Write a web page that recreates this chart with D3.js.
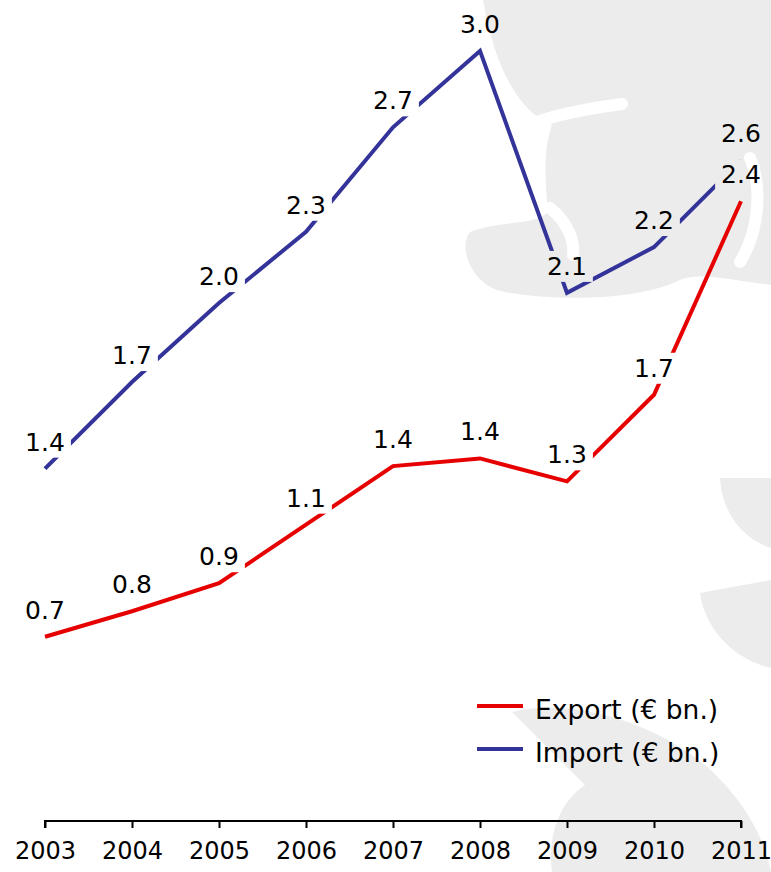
<!DOCTYPE html>
<html>
<head>
<meta charset="utf-8">
<script src="https://cdn.jsdelivr.net/npm/d3@7/dist/d3.min.js"></script>
<style>
  html, body { margin: 0; padding: 0; background: #fff; }
  svg { display: block; }
  text { font-family: "DejaVu Sans", Verdana, sans-serif; }
</style>
</head>
<body>
<div id="chart"></div>
<script>
// ---- data ----
const years = ["2003","2004","2005","2006","2007","2008","2009","2010","2011"];
const exportValues = [0.70, 0.80, 0.91, 1.14, 1.37, 1.40, 1.31, 1.65, 2.41];
const importValues = [1.36, 1.70, 2.01, 2.29, 2.70, 3.00, 2.05, 2.23, 2.57];
const exportLabels = ["0.7","0.8","0.9","1.1","1.4","1.4","1.3","1.7","2.4"];
const importLabels = ["1.4","1.7","2.0","2.3","2.7","3.0","2.1","2.2","2.6"];
const seriesNames = ["Export (€ bn.)", "Import (€ bn.)"];
const seriesColors = ["#e60000", "#333399"];

const W = 771, H = 872;
const svg = d3.select("#chart").append("svg").attr("width", W).attr("height", H);

// ---- decorative watermark ----
const wm = svg.append("g").attr("fill", "#ececec");
wm.append("path").attr("d",
  "M483,0 L771,0 L771,285 C730,280 700,272 680,280 C640,300 560,302 505,292 C470,286 458,245 470,232 C500,220 535,226 548,212 C545,180 543,150 552,125 C520,112 495,70 483,0 Z");
wm.append("path").attr("d", "M720,478 L771,478 L771,548 C745,540 722,515 720,478 Z");
wm.append("path").attr("d", "M700,593 L771,580 L771,668 C735,660 705,630 700,593 Z");
wm.append("path").attr("d",
  "M512,712 C570,698 650,720 705,765 C745,800 765,840 771,872 L552,872 C548,840 556,805 585,785 C560,760 535,735 512,712 Z");
const wmw = svg.append("g").attr("fill", "none").attr("stroke", "#fff").attr("stroke-width", 12).attr("stroke-linecap", "round");
wmw.append("path").attr("d", "M537,122 C565,112 595,108 622,104");
wmw.append("path").attr("d", "M550,208 C565,220 575,238 573,255");
wmw.append("path").attr("d", "M750,158 C762,185 760,230 740,262");

// ---- scales ----
const x = d3.scalePoint().domain(years).range([45, 741]);
const y = d3.scaleLinear().domain([0, 3.2]).range([815, 0]);

// ---- axis ----
const axis = d3.axisBottom(x).tickSize(7).tickPadding(14);
const gAxis = svg.append("g").attr("transform", "translate(0,821)").call(axis);
gAxis.select(".domain").attr("stroke", "#000").attr("stroke-width", 2).attr("d", "M45,7V0H741V7");
gAxis.selectAll(".tick line").attr("stroke", "#000").attr("stroke-width", 2);
gAxis.selectAll(".tick text").attr("font-size", 24).attr("fill", "#000")
  .attr("font-family", "'DejaVu Sans', Verdana, sans-serif").attr("dy", "0.71em");

const series = [
  { name: seriesNames[0], values: exportValues, labels: exportLabels, color: seriesColors[0] },
  { name: seriesNames[1], values: importValues, labels: importLabels, color: seriesColors[1] }
];

// ---- mask (gaps in lines behind labels) ----
const defs = svg.append("defs");
const mask = defs.append("mask").attr("id", "labelGap").attr("maskUnits", "userSpaceOnUse")
  .attr("x", 0).attr("y", 0).attr("width", W).attr("height", H);
mask.append("rect").attr("x", 0).attr("y", 0).attr("width", W).attr("height", H).attr("fill", "#fff");

// ---- lines ----
const line = d3.line().x((d, i) => x(years[i])).y(d => y(d));
svg.append("g").attr("mask", "url(#labelGap)")
  .selectAll("path").data(series).join("path")
  .attr("d", d => line(d.values))
  .attr("fill", "none").attr("stroke", d => d.color)
  .attr("stroke-width", 4).attr("stroke-linejoin", "miter");

// ---- data labels ----
const labelTexts = [];
series.forEach(s => {
  const t = svg.append("g").selectAll("text").data(s.values).join("text")
    .attr("x", (d, i) => x(years[i]))
    .attr("y", d => y(d) - 18)
    .attr("text-anchor", "middle")
    .attr("font-size", 25)
    .attr("fill", "#000")
    .text((d, i) => s.labels[i]);
  t.each(function() { labelTexts.push(this); });
});
labelTexts.forEach(el => {
  const b = el.getBBox();
  mask.append("rect")
    .attr("x", b.x - 6).attr("y", b.y - 1)
    .attr("width", b.width + 12).attr("height", b.height + 2)
    .attr("fill", "#000");
});

// ---- legend ----
const legend = svg.append("g").attr("transform", "translate(477,706)");
const li = legend.selectAll("g").data(series).join("g")
  .attr("transform", (d, i) => `translate(0,${i * 43})`);
li.append("line").attr("x1", 0).attr("x2", 46).attr("y1", 0).attr("y2", 0)
  .attr("stroke", d => d.color).attr("stroke-width", 4);
li.append("text").attr("x", 58).attr("y", 13).attr("font-size", 26.5).attr("fill", "#000")
  .text(d => d.name);
</script>
</body>
</html>
